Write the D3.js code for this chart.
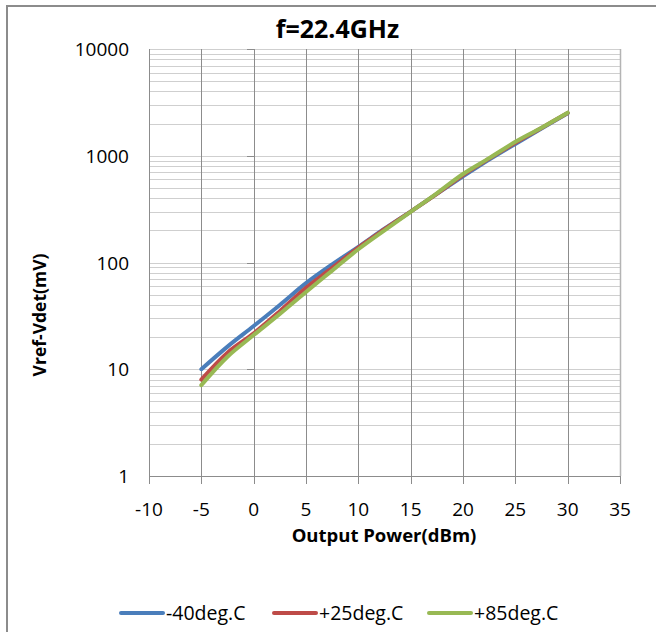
<!DOCTYPE html>
<html>
<head>
<meta charset="utf-8">
<script src="https://cdn.jsdelivr.net/npm/d3@7"></script>
<style>
  body { margin: 0; background: #fff; }
  text { font-family: "Open Sans", "Noto Sans", sans-serif; fill: #000; }
</style>
</head>
<body>
<div id="vis"></div>
<script>
// data
const power = [-5, -2.5, 0, 2.5, 5, 7.5, 10, 12.5, 15, 17.5, 20, 22.5, 25, 27.5, 30];
const m40 = [10.0, 16.3, 25.4, 40, 64, 96, 140, 207, 300, 440, 640, 920, 1290, 1800, 2500];
const p25 = [8.0, 14.3, 21.7, 35, 58, 89, 138, 205, 300, 440, 660, 940, 1320, 1820, 2520];
const p85 = [7.1, 13.1, 20.9, 33, 53, 84, 133, 200, 298, 445, 675, 950, 1350, 1830, 2530];
const seriesNames = ["-40deg.C", "+25deg.C", "+85deg.C"];
const xTicks = [-10, -5, 0, 5, 10, 15, 20, 25, 30, 35];
const yTicks = [1, 10, 100, 1000, 10000];

const colors = ["#4a7ebb", "#be4b48", "#98b954"];
const series = [m40, p25, p85];

const W = 656, H = 632;
const plot = { left: 149, right: 620, top: 49, bottom: 476 };

const svg = d3.select("#vis").append("svg")
  .attr("width", W)
  .attr("height", H);

// chart frame (runs off right/bottom edge like the reference)
svg.append("rect")
  .attr("x", 7).attr("y", 6)
  .attr("width", 700).attr("height", 700)
  .attr("fill", "#fff")
  .attr("stroke", "#8c8c8c")
  .attr("stroke-width", 2);

const x = d3.scaleLinear().domain([-10, 35]).range([plot.left, plot.right]);
const y = d3.scaleLog().domain([1, 10000]).range([plot.bottom, plot.top]);

// horizontal grid: minor + major per decade
const hLines = [];
yTicks.slice(0, -1).forEach(d => {
  for (let k = 1; k < 10; k++) hLines.push(d * k);
});
hLines.push(10000);

svg.append("g")
  .selectAll("line")
  .data(hLines)
  .enter().append("line")
  .attr("x1", plot.left).attr("x2", plot.right)
  .attr("y1", d => Math.round(y(d)) + 0.5)
  .attr("y2", d => Math.round(y(d)) + 0.5)
  .attr("stroke", "#cfcfcf")
  .attr("stroke-width", 1);

// vertical grid
svg.append("g")
  .selectAll("line")
  .data(xTicks)
  .enter().append("line")
  .attr("x1", d => Math.round(x(d)) + 0.5)
  .attr("x2", d => Math.round(x(d)) + 0.5)
  .attr("y1", plot.top).attr("y2", plot.bottom)
  .attr("stroke", d => d === 35 ? "#b4b4b4" : "#8c8c8c")
  .attr("stroke-width", d => d === 35 ? 1.5 : 1);

// x axis line + ticks below
svg.append("line")
  .attr("x1", plot.left).attr("x2", plot.right)
  .attr("y1", plot.bottom + 0.5).attr("y2", plot.bottom + 0.5)
  .attr("stroke", "#8c8c8c");

svg.append("g")
  .selectAll("line")
  .data(xTicks)
  .enter().append("line")
  .attr("x1", d => Math.round(x(d)) + 0.5)
  .attr("x2", d => Math.round(x(d)) + 0.5)
  .attr("y1", plot.bottom).attr("y2", plot.bottom + 8)
  .attr("stroke", "#8c8c8c");

// y axis sits at x = 0: short ticks to the left at decades
svg.append("g")
  .selectAll("line")
  .data(yTicks)
  .enter().append("line")
  .attr("x1", Math.round(x(0)) - 7)
  .attr("x2", Math.round(x(0)))
  .attr("y1", d => Math.round(y(d)) + 0.5)
  .attr("y2", d => Math.round(y(d)) + 0.5)
  .attr("stroke", "#8c8c8c");

// tick labels
svg.append("g")
  .selectAll("text")
  .data(xTicks)
  .enter().append("text")
  .attr("x", d => x(d))
  .attr("y", 516)
  .attr("text-anchor", "middle")
  .style("font-size", "19px")
  .text(d => d);

svg.append("g")
  .selectAll("text")
  .data(yTicks)
  .enter().append("text")
  .attr("x", 129)
  .attr("y", d => y(d) + 7)
  .attr("text-anchor", "end")
  .style("font-size", "19px")
  .text(d => d);

// lines
const line = d3.line()
  .x((d, i) => x(power[i]))
  .y(d => y(d))
  .curve(d3.curveCatmullRom.alpha(0.5));

series.forEach((s, i) => {
  svg.append("path")
    .datum(s)
    .attr("fill", "none")
    .attr("stroke", colors[i])
    .attr("stroke-width", 4)
    .attr("stroke-linejoin", "round")
    .attr("stroke-linecap", "round")
    .attr("d", line);
});

// titles
svg.append("text")
  .attr("x", 337.5).attr("y", 38)
  .attr("text-anchor", "middle")
  .style("font-size", "25px")
  .style("font-weight", "bold")
  .text("f=22.4GHz");

svg.append("text")
  .attr("x", 384).attr("y", 542)
  .attr("text-anchor", "middle")
  .style("font-size", "18.5px")
  .style("font-weight", "bold")
  .text("Output Power(dBm)");

svg.append("text")
  .attr("transform", "translate(46,315) rotate(-90)")
  .attr("text-anchor", "middle")
  .style("font-size", "17.5px")
  .style("font-weight", "bold")
  .text("Vref-Vdet(mV)");

// legend
const legendX = [120, 273, 428];
seriesNames.forEach((name, i) => {
  svg.append("line")
    .attr("x1", legendX[i] + 1).attr("x2", legendX[i] + 43)
    .attr("y1", 613).attr("y2", 613)
    .attr("stroke", colors[i])
    .attr("stroke-width", 4)
    .attr("stroke-linecap", "round");
  svg.append("text")
    .attr("x", legendX[i] + 46).attr("y", 620)
    .style("font-size", "19.5px")
    .text(name);
});
</script>
</body>
</html>
